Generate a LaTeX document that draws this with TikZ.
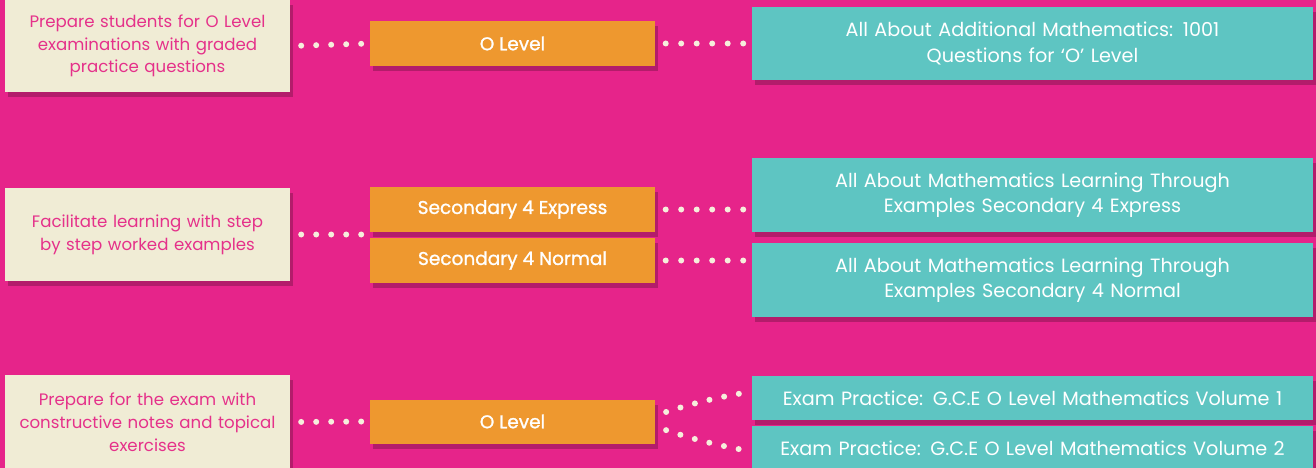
\documentclass[tikz,border=0pt]{standalone}
\usepackage{fontspec}
\setmainfont{Poppins}
\newfontfamily\levelfont{Poppins}[FakeBold=1.2]
\usetikzlibrary{positioning,shadows,calc}

\definecolor{bgpink}{HTML}{E6248A}
\definecolor{cream}{HTML}{F0ECD5}
\definecolor{amber}{HTML}{EE982F}
\definecolor{aqua}{HTML}{5EC5C2}
\definecolor{rosetext}{HTML}{E5318A}
\definecolor{dotcol}{HTML}{F6EEDC}

\tikzset{
	boxshadow/.style={drop shadow={shadow xshift=3pt,shadow yshift=-5pt,opacity=0.22,fill=black}},
	aimbox/.style={boxshadow,fill=cream,text=rosetext,minimum width=285pt,text width=275pt,
		align=center,inner sep=0pt,font=\fontsize{16.6}{22.8}\selectfont},
	levelbox/.style={boxshadow,fill=amber,text=white,minimum width=285pt,inner sep=0pt,
		font=\levelfont\fontsize{18.5}{20}\selectfont},
	bookbox/.style={boxshadow,fill=aqua,text=white,minimum width=561pt,text width=550pt,
		align=center,inner sep=0pt,font=\fontsize{19.2}{25.5}\selectfont},
	dotline/.style={draw=dotcol,line width=6pt,line cap=round,dash pattern=on 0pt off 15pt}
}

\begin{document}
\begin{tikzpicture}[x=1pt,y=-1pt]
	\useasboundingbox[fill=bgpink] (0,0) rectangle (1316,468);

	\node[aimbox,minimum height=92pt] (aim1) at (147.5,46)
		{Prepare students for O Level\\ examinations with graded\\ practice questions};
	\node[aimbox,minimum height=93pt] (aim2) at (147.5,234.5)
		{Facilitate learning with step\\ by step worked examples};
	\node[aimbox,minimum height=94pt] (aim3) at (147.5,422)
		{Prepare for the exam with\\ constructive notes and topical\\ exercises};

	\node[levelbox,minimum height=45pt] (lvl1) at (512.5,43.5) {O Level};
	\node[levelbox,minimum height=45pt] (expr) at (512.5,209.5) {Secondary 4 Express};
	\node[levelbox,minimum height=45pt] (norm) at (512.5,260.5) {Secondary 4 Normal};
	\node[levelbox,minimum height=44pt] (lvl3) at (512.5,421.5) {O Level};

	\node[bookbox,minimum height=73pt] (book1) at (1032.5,43.5)
		{All About Additional Mathematics: 1001\\ Questions for `O' Level};
	\node[bookbox,minimum height=74pt] (book2) at (1032.5,195)
		{All About Mathematics Learning Through\\ Examples Secondary 4 Express};
	\node[bookbox,minimum height=74pt] (book3) at (1032.5,280)
		{All About Mathematics Learning Through\\ Examples Secondary 4 Normal};
	\node[bookbox,minimum height=44pt] (book4) at (1032.5,398)
		{Exam Practice: G.C.E O Level Mathematics Volume 1};
	\node[bookbox,minimum height=44pt] (book5) at (1032.5,448)
		{Exam Practice: G.C.E O Level Mathematics Volume 2};

	\draw[dotline,shorten <=11pt,shorten >=7.5pt] (aim1.east) -- (lvl1.west);
	\draw[dotline,shorten <=11pt,shorten >=7.5pt] (aim2.east) -- (aim2.east -| expr.west);
	\draw[dotline,shorten <=11pt,shorten >=7.5pt] (aim3.east) -- (lvl3.west);

	\draw[dotline,dash pattern=on 0pt off 15.5pt,shorten <=10.5pt,shorten >=7.5pt] (lvl1.east) -- (lvl1.east -| book1.west);
	\draw[dotline,dash pattern=on 0pt off 15.5pt,shorten <=10.5pt,shorten >=7.5pt] (expr.east) -- (expr.east -| book2.west);
	\draw[dotline,dash pattern=on 0pt off 15.5pt,shorten <=10.5pt,shorten >=7.5pt] (norm.east) -- (norm.east -| book3.west);

	\draw[dotline,shorten <=11.5pt,shorten >=8.5pt] ([yshift=6pt]lvl3.east) to[bend left=4] ([yshift=6.5pt]book4.west);
	\draw[dotline,shorten <=11.5pt,shorten >=8.5pt] ([yshift=-5pt]lvl3.east) to[bend right=4] ([yshift=-3.5pt]book5.west);
\end{tikzpicture}
\end{document}
